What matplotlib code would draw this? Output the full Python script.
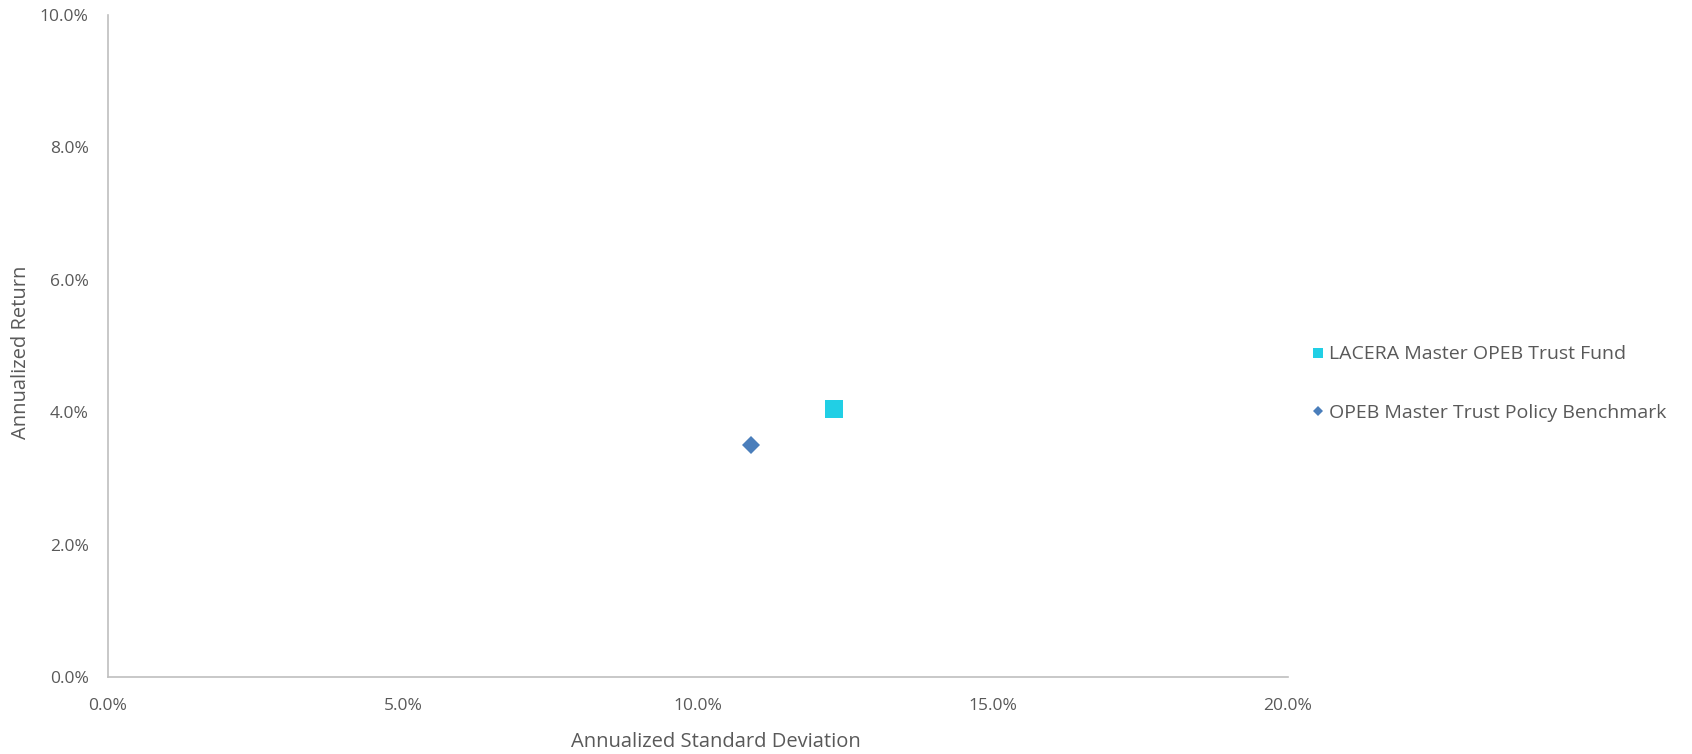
import matplotlib
matplotlib.use("Agg")
import matplotlib.pyplot as plt
from matplotlib.ticker import FuncFormatter

plt.rcParams['font.family'] = ['Open Sans', 'DejaVu Sans']

# risk / return points (percent)
names = ['LACERA Master OPEB Trust Fund', 'OPEB Master Trust Policy Benchmark']
std_dev = [12.3, 10.9]
returns = [4.05, 3.5]
markers = ['s', 'D']
colors = ['#21CFE5', '#4A7EBB']
sizes = [13, 9.2]

x_ticks = [0, 5, 10, 15, 20]
y_ticks = [0, 2, 4, 6, 8, 10]

TEXT = '#595959'
AXIS = '#BFBFBF'

fig = plt.figure(figsize=(16.92, 7.54), dpi=100)
ax = fig.add_axes([0.0638, 0.1021, 0.6974, 0.878])

for name, sx, ry, m, c, s in zip(names, std_dev, returns, markers, colors, sizes):
    ax.plot([sx], [ry], linestyle='none', marker=m, color=c,
            markersize=s, markeredgewidth=0, label=name)

ax.set_xlim(x_ticks[0], x_ticks[-1])
ax.set_ylim(y_ticks[0], y_ticks[-1])
ax.set_xticks(x_ticks)
ax.set_yticks(y_ticks)
pct = FuncFormatter(lambda v, _: f'{v:.1f}%')
ax.xaxis.set_major_formatter(pct)
ax.yaxis.set_major_formatter(pct)
ax.tick_params(length=0, labelsize=12.5, labelcolor=TEXT)
ax.tick_params(axis='x', pad=15)
ax.tick_params(axis='y', pad=14)

for side in ['top', 'right']:
    ax.spines[side].set_visible(False)
for side in ['left', 'bottom']:
    ax.spines[side].set_color(AXIS)
    ax.spines[side].set_linewidth(1.2)

ax.set_xlabel('Annualized Standard Deviation', fontsize=14.5, color=TEXT)
ax.set_ylabel('Annualized Return', fontsize=14.5, color=TEXT)
ax.xaxis.set_label_coords(0.515, -0.083)
ax.yaxis.set_label_coords(-0.065, 0.490)

leg = ax.legend(loc='center left', bbox_to_anchor=(0.765, 0.491), bbox_transform=fig.transFigure,
                frameon=False, fontsize=14, markerscale=0.5, handlelength=0.6,
                handletextpad=0.3, labelspacing=2.1)
for t in leg.get_texts():
    t.set_color(TEXT)

fig.savefig('out.png', dpi=100)
